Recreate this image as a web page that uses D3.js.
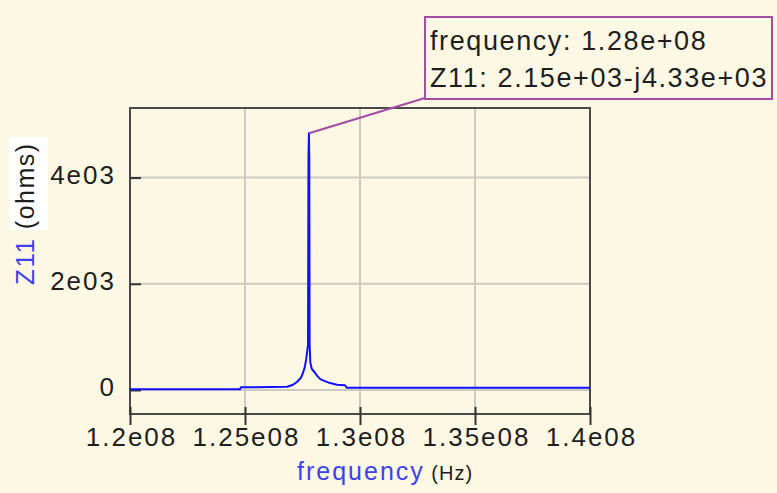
<!DOCTYPE html>
<html>
<head>
<meta charset="utf-8">
<script src="https://d3js.org/d3.v7.min.js"></script>
<style>
  html, body { margin: 0; padding: 0; background: #fdf8e4; }
  svg { display: block; font-family: "Liberation Sans", Arial, sans-serif; }
</style>
</head>
<body>
<div id="chart"></div>
<script>
// sweep frequency (Hz) and |Z11| (ohms)
var freq = [1.2000e8, 1.2003e8, 1.2478e8, 1.2482e8, 1.2683e8, 1.2709e8, 1.2726e8, 1.2743e8,
            1.2752e8, 1.2760e8, 1.2766e8, 1.2774e8, 1.2776e8, 1.2778e8, 1.27795e8, 1.2781e8,
            1.2784e8, 1.2790e8, 1.2805e8, 1.2813e8, 1.2826e8, 1.2839e8, 1.2870e8, 1.2900e8,
            1.2935e8, 1.2943e8, 1.4000e8];
var z11 = [35, 15, 15, 50, 60, 100, 150, 230,
           320, 430, 580, 850, 4380, 4834, 4350, 850,
           520, 400, 320, 270, 210, 180, 130, 100,
           90, 40, 40];

var xTicks = [1.2e8, 1.25e8, 1.3e8, 1.35e8, 1.4e8];
var xTickLabels = ['1.2e08', '1.25e08', '1.3e08', '1.35e08', '1.4e08'];
var yTicks = [0, 2000, 4000];
var yTickLabels = ['0', '2e03', '4e03'];

var markerLines = ['frequency: 1.28e+08', 'Z11: 2.15e+03-j4.33e+03'];

var width = 777, height = 493;
var plotL = 130, plotR = 590, plotT = 108, plotB = 414;

var svg = d3.select('#chart').append('svg')
  .attr('width', width)
  .attr('height', height);

svg.append('rect')
  .attr('width', width).attr('height', height)
  .attr('fill', '#fdf8e4');

var x = d3.scaleLinear().domain([1.2e8, 1.4e8]).range([plotL, plotR]);
var y = d3.scaleLinear().domain([-452, 5310]).range([plotB, plotT]);

// grid
svg.append('g').selectAll('line')
  .data(xTicks.slice(1, -1))
  .enter().append('line')
    .attr('x1', d => x(d)).attr('x2', d => x(d))
    .attr('y1', plotT).attr('y2', plotB)
    .attr('stroke', '#cbc9c0').attr('stroke-width', 2);

svg.append('g').selectAll('line')
  .data(yTicks)
  .enter().append('line')
    .attr('x1', plotL).attr('x2', plotR)
    .attr('y1', d => y(d)).attr('y2', d => y(d))
    .attr('stroke', '#cbc9c0').attr('stroke-width', 2);

// frame
svg.append('rect')
  .attr('x', plotL).attr('y', plotT)
  .attr('width', plotR - plotL).attr('height', plotB - plotT)
  .attr('fill', 'none')
  .attr('stroke', '#4a4a4a').attr('stroke-width', 2);

// x axis
var xAxis = svg.append('g')
  .attr('transform', 'translate(0,' + plotB + ')')
  .call(d3.axisBottom(x)
    .tickValues(xTicks)
    .tickFormat((d, i) => xTickLabels[i])
    .tickSizeInner(11).tickSizeOuter(0)
    .tickPadding(3));
xAxis.select('.domain').remove();
xAxis.selectAll('line').attr('y1', -7).attr('stroke', '#333').attr('stroke-width', 2);
xAxis.selectAll('text')
  .attr('font-size', 26)
  .attr('font-family', '"Liberation Sans", Arial, sans-serif')
  .attr('letter-spacing', 2)
  .attr('dx', 1)
  .attr('fill', '#1e1e1e');

// y axis
var yAxis = svg.append('g')
  .attr('transform', 'translate(' + plotL + ',0)')
  .call(d3.axisLeft(y)
    .tickValues(yTicks)
    .tickFormat((d, i) => yTickLabels[i])
    .tickSizeInner(10).tickSizeOuter(0)
    .tickPadding(4));
yAxis.select('.domain').remove();
yAxis.selectAll('line').attr('x2', 11).attr('stroke', '#333').attr('stroke-width', 2);
yAxis.selectAll('text')
  .attr('font-size', 26)
  .attr('font-family', '"Liberation Sans", Arial, sans-serif')
  .attr('letter-spacing', 2)
  .attr('dy', '0.22em')
  .attr('fill', '#1e1e1e');

// trace
var pts = freq.map((f, i) => [f, z11[i]]);
svg.append('path')
  .datum(pts)
  .attr('fill', 'none')
  .attr('stroke', '#1010ff')
  .attr('stroke-width', 2)
  .attr('stroke-linejoin', 'round')
  .attr('d', d3.line().x(d => x(d[0])).y(d => y(d[1])));

// marker readout
var peak = d3.maxIndex(z11);
var boxX = 425, boxY = 17, boxW = 347, boxH = 82;
svg.append('line')
  .attr('x1', x(freq[peak])).attr('y1', y(z11[peak]))
  .attr('x2', boxX).attr('y2', boxY + boxH - 1)
  .attr('stroke', '#a24ca2').attr('stroke-width', 2);
svg.append('rect')
  .attr('x', boxX).attr('y', boxY)
  .attr('width', boxW).attr('height', boxH)
  .attr('fill', '#fdf8e4')
  .attr('stroke', '#a24ca2').attr('stroke-width', 2);
svg.append('g').selectAll('text')
  .data(markerLines)
  .enter().append('text')
    .attr('x', boxX + 5)
    .attr('y', (d, i) => 50 + i * 37)
    .attr('font-size', 27)
    .attr('letter-spacing', 1.6)
    .attr('fill', '#1e1e1e')
    .text(d => d);

// axis titles
svg.append('rect')
  .attr('x', 9).attr('y', 137).attr('width', 39).attr('height', 93)
  .attr('fill', '#ffffff');

var yTitle = svg.append('text')
  .attr('transform', 'translate(34,285) rotate(-90)')
  .attr('letter-spacing', 1.5);
yTitle.append('tspan').attr('font-size', 26).attr('fill', '#4040f2').text('Z11');
yTitle.append('tspan').attr('font-size', 25).attr('fill', '#1e1e1e').text(' (ohms)');

var xTitle = svg.append('text')
  .attr('x', 297).attr('y', 480);
xTitle.append('tspan').attr('font-size', 25).attr('letter-spacing', 2).attr('fill', '#4040f2').text('frequency');
xTitle.append('tspan').attr('font-size', 20).attr('letter-spacing', 1).attr('fill', '#1e1e1e').text(' (Hz)');
</script>
</body>
</html>
